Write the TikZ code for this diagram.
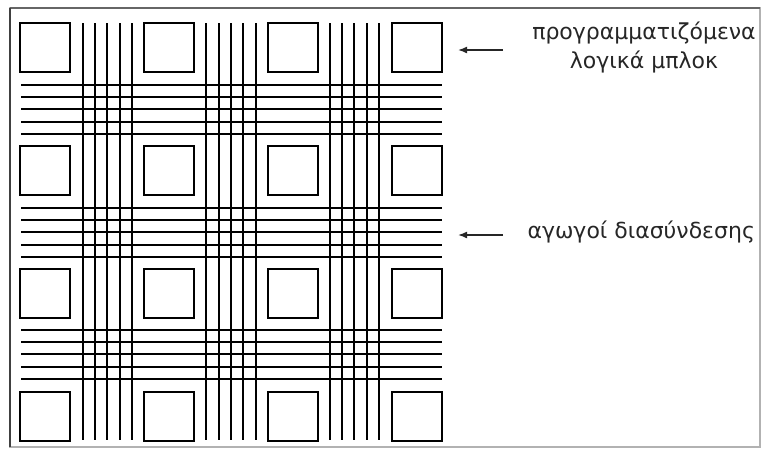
\documentclass[tikz,border=0pt]{standalone}
\usepackage{fontspec}
\setmainfont{DejaVu Sans}
\usetikzlibrary{arrows.meta}

\begin{document}
\begin{tikzpicture}[x=1pt, y=-1pt]
% Set the page size
\useasboundingbox (0,0) rectangle (762,450);

% Outer frame
\draw[gray!60, line width=1.4pt] (10,8) rectangle (760,447);
\draw[gray!80!black, line width=2.6pt] (10,8) -- (760,8);
\draw[black!75, line width=1.8pt] (10,8) -- (10,447);

% Draw the logic blocks
\draw[line width=2.8pt] (20, 23) rectangle +(50, 49);
\draw[line width=2.8pt] (144, 23) rectangle +(50, 49);
\draw[line width=2.8pt] (268, 23) rectangle +(50, 49);
\draw[line width=2.8pt] (392, 23) rectangle +(50, 49);
\draw[line width=2.8pt] (20, 146) rectangle +(50, 49);
\draw[line width=2.8pt] (144, 146) rectangle +(50, 49);
\draw[line width=2.8pt] (268, 146) rectangle +(50, 49);
\draw[line width=2.8pt] (392, 146) rectangle +(50, 49);
\draw[line width=2.8pt] (20, 269) rectangle +(50, 49);
\draw[line width=2.8pt] (144, 269) rectangle +(50, 49);
\draw[line width=2.8pt] (268, 269) rectangle +(50, 49);
\draw[line width=2.8pt] (392, 269) rectangle +(50, 49);
\draw[line width=2.8pt] (20, 392) rectangle +(50, 49);
\draw[line width=2.8pt] (144, 392) rectangle +(50, 49);
\draw[line width=2.8pt] (268, 392) rectangle +(50, 49);
\draw[line width=2.8pt] (392, 392) rectangle +(50, 49);

% Vertical wires
\draw[line width=2.8pt] (83, 23) -- (83, 440);
\draw[line width=2.8pt] (95, 23) -- (95, 440);
\draw[line width=2.8pt] (107, 23) -- (107, 440);
\draw[line width=2.8pt] (120, 23) -- (120, 440);
\draw[line width=2.8pt] (132, 23) -- (132, 440);
\draw[line width=2.8pt] (206, 23) -- (206, 440);
\draw[line width=2.8pt] (219, 23) -- (219, 440);
\draw[line width=2.8pt] (231, 23) -- (231, 440);
\draw[line width=2.8pt] (243, 23) -- (243, 440);
\draw[line width=2.8pt] (256, 23) -- (256, 440);
\draw[line width=2.8pt] (330, 23) -- (330, 440);
\draw[line width=2.8pt] (342, 23) -- (342, 440);
\draw[line width=2.8pt] (354, 23) -- (354, 440);
\draw[line width=2.8pt] (367, 23) -- (367, 440);
\draw[line width=2.8pt] (379, 23) -- (379, 440);

% Horizontal wires
\draw[line width=2.8pt] (21, 85) -- (442, 85);
\draw[line width=2.8pt] (21, 97) -- (442, 97);
\draw[line width=2.8pt] (21, 109) -- (442, 109);
\draw[line width=2.8pt] (21, 122) -- (442, 122);
\draw[line width=2.8pt] (21, 134) -- (442, 134);
\draw[line width=2.8pt] (21, 208) -- (442, 208);
\draw[line width=2.8pt] (21, 220) -- (442, 220);
\draw[line width=2.8pt] (21, 232) -- (442, 232);
\draw[line width=2.8pt] (21, 245) -- (442, 245);
\draw[line width=2.8pt] (21, 257) -- (442, 257);
\draw[line width=2.8pt] (21, 330) -- (442, 330);
\draw[line width=2.8pt] (21, 342) -- (442, 342);
\draw[line width=2.8pt] (21, 354) -- (442, 354);
\draw[line width=2.8pt] (21, 367) -- (442, 367);
\draw[line width=2.8pt] (21, 379) -- (442, 379);

% Labels and pointers
\node[font=\fontsize{22}{29}\selectfont, align=center, text=black!85] (blocks) at (644, 47) {προγραμματιζόμενα\\λογικά μπλοκ};
\node[font=\fontsize{22}{29}\selectfont, anchor=west, text=black!85] (wires) at (524, 232) {αγωγοί διασύνδεσης};
\coordinate (blocks tail) at (503, 50);
\coordinate (blocks tip) at (458, 50);
\coordinate (wires tail) at (503, 235);
\coordinate (wires tip) at (458, 235);
\draw[-{Latex[length=9pt, width=7pt]}, line width=1.6pt, black!85] (blocks tail) -- (blocks tip);
\draw[-{Latex[length=9pt, width=7pt]}, line width=1.6pt, black!85] (wires tail) -- (wires tip);
\end{tikzpicture}
\end{document}
